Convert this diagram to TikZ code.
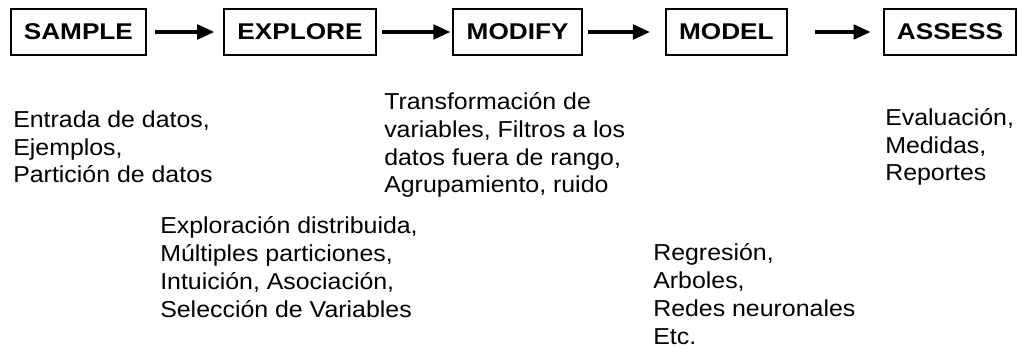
\documentclass[tikz,border=0pt]{standalone}
\usepackage{fontspec}
\usepackage{tikz}
\usetikzlibrary{arrows.meta, positioning}
\newfontfamily\stagefont[FakeStretch=1.15]{Liberation Sans}
\newfontfamily\descfont[FakeStretch=1.08]{Liberation Sans}

\begin{document}
\begin{tikzpicture}[
    stage/.style={draw, line width=1.4pt, minimum height=1.15cm, inner xsep=0.33cm, inner ysep=0pt,
                  font=\stagefont\bfseries\fontsize{16.2}{19}\selectfont},
    desc/.style={align=left, inner sep=0pt, anchor=base west,
                 font=\descfont\fontsize{16.4}{19.9}\selectfont},
    flow/.style={-{Triangle[length=0.43cm, width=0.36cm]}, line width=2.8pt},
]
\useasboundingbox (0,0) rectangle (25.525,-8.725);

% SEMMA stages
\node[stage] (sample)  at (1.96,-0.8)  {SAMPLE};
\node[stage] (explore) at (7.5,-0.8)   {EXPLORE};
\node[stage] (modify)  at (12.94,-0.8) {MODIFY};
\node[stage] (model)   at (18.16,-0.8) {MODEL};
\node[stage] (assess)  at (23.75,-0.8) {ASSESS};

% Arrows between stages
\draw[flow, shorten <=0.2cm,   shorten >=0.22cm]  (sample) -- (explore);
\draw[flow, shorten <=0.12cm,  shorten >=0.05cm]  (explore) -- (modify);
\draw[flow, shorten <=0.12cm,  shorten >=0.37cm]  (modify) -- (model);
\draw[flow, shorten <=0.67cm,  shorten >=0.3cm]   (model) -- (assess);

% What each stage does (base = baseline of the last line)
\node[desc] (sampletxt) at (0.325,-4.575) {Entrada de datos,\\Ejemplos,\\Partición de datos};
\node[desc] (exploretxt) at (4.0,-7.925) {Exploración distribuida,\\Múltiples particiones,\\Intuición, Asociación,\\Selección de Variables};
\node[desc] (modifytxt) at (9.6,-4.825) {Transformación de\\variables, Filtros a los\\datos fuera de rango,\\Agrupamiento, ruido};
\node[desc] (modeltxt) at (16.325,-8.6) {Regresión,\\Arboles,\\Redes neuronales\\Etc.};
\node[desc] (assesstxt) at (22.125,-4.525) {Evaluación,\\Medidas,\\Reportes};

\end{tikzpicture}
\end{document}
